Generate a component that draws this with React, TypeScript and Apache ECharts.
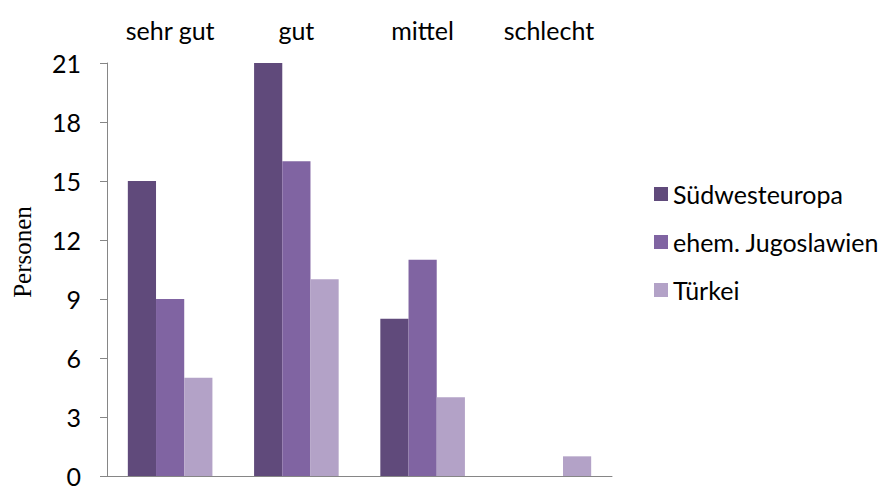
import React, { useEffect, useRef } from "react";
import * as echarts from "echarts";

const categories = ["sehr gut", "gut", "mittel", "schlecht"];
const seriesNames = ["Südwesteuropa", "ehem. Jugoslawien", "Türkei"];
const suedwesteuropa = [15, 21, 8, 0];
const jugoslawien = [9, 16, 11, 0];
const tuerkei = [5, 10, 4, 1];
const colors = ["#604A7B", "#8064A2", "#B3A2C7"];
const yTitle = "Personen";

export default function App() {
  const ref = useRef<HTMLDivElement>(null);
  useEffect(() => {
    if (!ref.current) return;
    const chart = echarts.init(ref.current, null, { renderer: "svg" });
    const font = "Lato, 'Open Sans', sans-serif";
    const data = [suedwesteuropa, jugoslawien, tuerkei];
    chart.setOption({
      animation: false,
      backgroundColor: "#ffffff",
      grid: { left: 107, right: 271, top: 63, bottom: 14, containLabel: false },
      legend: {
        orient: "vertical",
        left: 649,
        top: 174,
        itemWidth: 14,
        itemHeight: 14,
        itemGap: 18,
        icon: "rect",
        data: seriesNames,
        textStyle: { fontFamily: font, fontSize: 25, color: "#000", lineHeight: 30 },
      },
      graphic: [
        {
          type: "text",
          x: 22,
          y: 252,
          rotation: Math.PI / 2,
          style: {
            text: yTitle,
            font: "25px 'Liberation Serif', 'DejaVu Serif', serif",
            fill: "#000",
            align: "center",
            verticalAlign: "middle",
          },
        },
      ],
      xAxis: [
        {
          type: "category",
          data: categories,
          position: "top",
          axisLine: { show: false },
          axisTick: { show: false },
          axisLabel: { fontFamily: font, fontSize: 25, color: "#000", margin: 21 },
        },
        {
          type: "category",
          data: categories,
          position: "bottom",
          axisLine: { show: true, lineStyle: { color: "#868686", width: 1 } },
          axisTick: { show: false },
          axisLabel: { show: false },
        },
      ],
      yAxis: {
        type: "value",
        min: 0,
        max: 21,
        interval: 3,
        axisLine: { show: true, lineStyle: { color: "#868686", width: 1 } },
        axisTick: { show: true, inside: false, length: 7, lineStyle: { color: "#868686" } },
        splitLine: { show: false },
        axisLabel: { fontFamily: font, fontSize: 25, lineHeight: 20, color: "#000", margin: 26 },
      },
      series: seriesNames.map((name, i) => ({
        name,
        type: "bar",
        xAxisIndex: 0,
        data: data[i],
        barGap: "0%",
        barCategoryGap: "33%",
        itemStyle: { color: colors[i] },
      })),
    });
    return () => chart.dispose();
  }, []);
  return <div ref={ref} style={{ width: 883, height: 490, position: "absolute", left: 0, top: 0 }} />;
}
